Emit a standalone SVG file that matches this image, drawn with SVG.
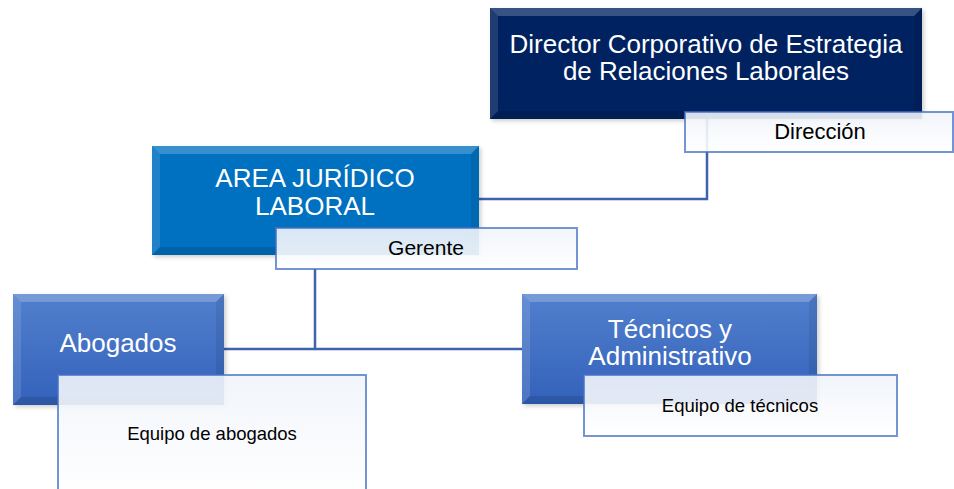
<svg xmlns="http://www.w3.org/2000/svg" width="954" height="489" viewBox="0 0 954 489">
<style>
.big{font-family:"Liberation Sans",Arial,sans-serif;font-size:26px;fill:#ffffff;text-anchor:middle}
.small{font-family:"Liberation Sans",Arial,sans-serif;fill:#000000;text-anchor:middle}
.conn{fill:none;stroke:#3d63ad;stroke-width:2.5}
.note{fill:url(#noteGrad);fill-opacity:0.9;stroke:#4472c4;stroke-opacity:0.75;stroke-width:2}
.bt{fill:#ffffff;fill-opacity:0.22}
.bl{fill:#ffffff;fill-opacity:0.12}
.br{fill:#000000;fill-opacity:0.08}
.bb{fill:#000000;fill-opacity:0.12}
</style>
<defs>
<linearGradient id="noteGrad" x1="0" y1="0" x2="0" y2="1">
<stop offset="0" stop-color="#f0f4fa"/>
<stop offset="1" stop-color="#ffffff"/>
</linearGradient>
<linearGradient id="midBlue" x1="0" y1="0" x2="0" y2="1">
<stop offset="0" stop-color="#527fcd"/>
<stop offset="1" stop-color="#3362bb"/>
</linearGradient>
<filter id="sh" x="-5%" y="-5%" width="115%" height="120%">
<feDropShadow dx="2" dy="2" stdDeviation="2" flood-color="#000" flood-opacity="0.2"/>
</filter>
</defs>
<g id="connectors">
<polyline class="conn" points="707,119 707,199 479,199"/>
<polyline class="conn" points="315,269 315,349"/>
<polyline class="conn" points="224,349 522,349"/>
</g>
<g id="director">
<rect x="490" y="8" width="432" height="111" fill="#002060" filter="url(#sh)"/>
<polygon class="bt" points="490,8 922,8 914,16 498,16"/>
<polygon class="bl" points="490,8 498,16 498,111 490,119"/>
<polygon class="br" points="922,8 922,119 914,111 914,16"/>
<polygon class="bb" points="490,119 498,111 914,111 922,119"/>
<text class="big" x="706" y="53">Director Corporativo de Estrategia</text>
<text class="big" x="706" y="80">de Relaciones Laborales</text>
</g>
<g id="direccion">
<rect class="note" x="685" y="112" width="268" height="40"/>
<text class="small" x="820" y="139" font-size="22">Dirección</text>
</g>
<g id="area">
<rect x="152" y="146" width="327" height="109" fill="#0070c0" filter="url(#sh)"/>
<polygon class="bt" points="152,146 479,146 471,154 160,154"/>
<polygon class="bl" points="152,146 160,154 160,247 152,255"/>
<polygon class="br" points="479,146 479,255 471,247 471,154"/>
<polygon class="bb" points="152,255 160,247 471,247 479,255"/>
<text class="big" x="315" y="187">AREA JURÍDICO</text>
<text class="big" x="315" y="215">LABORAL</text>
</g>
<g id="gerente">
<rect class="note" x="276" y="228" width="301" height="41"/>
<text class="small" x="426" y="255" font-size="21">Gerente</text>
</g>
<g id="abogados">
<rect x="13" y="294" width="211" height="111" fill="url(#midBlue)" filter="url(#sh)"/>
<polygon class="bt" points="13,294 224,294 216,302 21,302"/>
<polygon class="bl" points="13,294 21,302 21,397 13,405"/>
<polygon class="br" points="224,294 224,405 216,397 216,302"/>
<polygon class="bb" points="13,405 21,397 216,397 224,405"/>
<text class="big" x="118" y="352">Abogados</text>
</g>
<g id="equipo-abogados">
<rect class="note" x="58" y="375" width="308" height="125"/>
<text class="small" x="212" y="440" font-size="18.5">Equipo de abogados</text>
</g>
<g id="tecnicos">
<rect x="522" y="294" width="295" height="110" fill="url(#midBlue)" filter="url(#sh)"/>
<polygon class="bt" points="522,294 817,294 809,302 530,302"/>
<polygon class="bl" points="522,294 530,302 530,396 522,404"/>
<polygon class="br" points="817,294 817,404 809,396 809,302"/>
<polygon class="bb" points="522,404 530,396 809,396 817,404"/>
<text class="big" x="670" y="338">Técnicos y</text>
<text class="big" x="670" y="365">Administrativo</text>
</g>
<g id="equipo-tecnicos">
<rect class="note" x="584" y="375" width="313" height="61"/>
<text class="small" x="740" y="412" font-size="18.5">Equipo de técnicos</text>
</g>
</svg>
